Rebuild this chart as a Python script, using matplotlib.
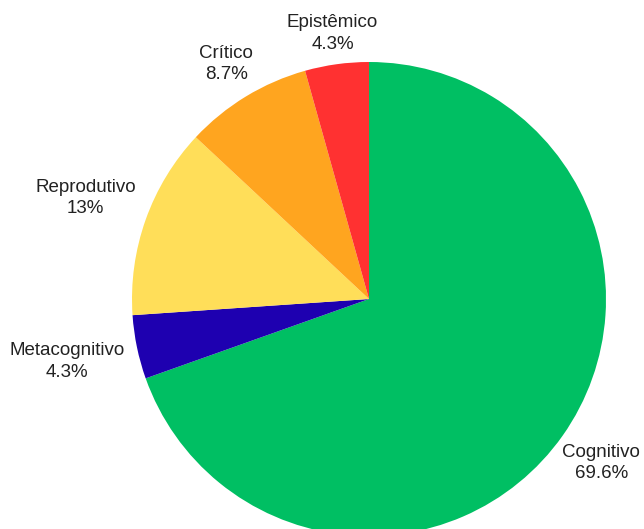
import numpy as np
import matplotlib.pyplot as plt

# counts per category (23 in total)
categories = ["Cognitivo", "Metacognitivo", "Reprodutivo", "Crítico", "Epistêmico"]
counts = [16, 1, 3, 2, 1]
percent_labels = ["69.6%", "4.3%", "13%", "8.7%", "4.3%"]

colors = ["#00BF63", "#1E00B0", "#FFDE59", "#FFA51F", "#FF3131"]
label_radius = [1.20, 1.30, 1.27, 1.16, 1.13]

plt.rcParams['font.family'] = ['Liberation Sans', 'DejaVu Sans']

fig = plt.figure(figsize=(6.44, 5.29), dpi=100)
ax = fig.add_axes([132 / 644, -7 / 529, 474 / 644, 474 / 529])

wedges, _ = ax.pie(counts, colors=colors, startangle=90, counterclock=False,
                   radius=1.0, wedgeprops=dict(linewidth=0))

for w, name, pct, r in zip(wedges, categories, percent_labels, label_radius):
    mid = np.deg2rad((w.theta1 + w.theta2) / 2.0)
    ax.text(r * np.cos(mid), r * np.sin(mid), name + "\n" + pct,
            ha="center", va="center", fontsize=13.5, color="#222222",
            linespacing=1.35, clip_on=False)

ax.set_xlim(-1, 1)
ax.set_ylim(-1, 1)
ax.set_aspect('equal')
ax.axis('off')

fig.savefig("out.png", dpi=100)
